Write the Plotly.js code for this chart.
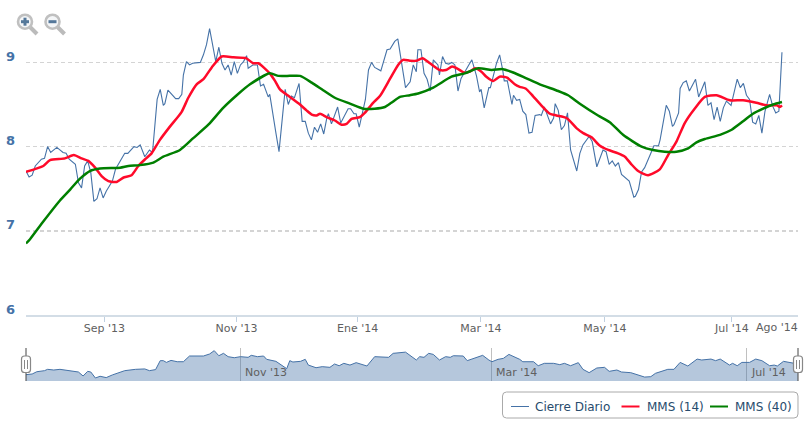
<!DOCTYPE html>
<html><head><meta charset="utf-8">
<script src="https://cdn.plot.ly/plotly-3.0.1.min.js"></script>
<style>html,body{margin:0;padding:0;background:#fff}#c{width:811px;height:424px}</style>
</head><body><div id="c"></div>
<script>
// Sessions are trading-day positions on the ordinal axis
const closeSessions=[0,1,2,3,5,6,7,8,10,12,13,14,16,17,18,19,20,21,22,23,24,25,26,28,29,32,33,35,36,37,38.5,40,41,41.5,42.5,43.5,44.5,45,46,48.5,49.5,50.5,51,52,53,54,56.5,57.5,58.5,59.5,60.5,61.5,62.5,63.5,64.5,65.5,66.5,67.5,68.5,69.5,70.5,71.5,72,73.5,75,76,77,78.5,79,80,81,82,83,84,85,86,87,88.5,89.5,90.5,91.5,92.5,93.5,94.5,95.5,96.5,97.5,98,99,101,102,104.4,105.2,106.3,107,108,110,111,112,113,115,117,118,119.5,120.5,121.5,123,124.5,125.5,126.5,127,128,129,130,131,132,133.5,134,135,136,137,138,139,140,141,143.5,144.5,146,147,147.5,148.5,150,150.5,152.5,153.5,154.5,155,156,157.5,158,159,160,161,162,163,164,165,166.5,167,168,169,170,171,171.5,172.5,173.5,174.5,175.5,176.5,178.5,179.5,180.5,182.5,183.5,185,187,188,189,190,191,192,193,195.5,197,197.5,198.5,199.5,200.5,202.5,203.5,205,205.5,207.5,208.5,209.5,210,211.5,212,213,214,215,217,218,220,221,222,223,224,225,226,227,228.5,230.5,231.5,232.5,233.5,234.5,235.5,236.5,237.5,238.5,239.5,241,242,243,244,245];
const closeValues=[7.71,7.64,7.66,7.77,7.85,7.86,8.00,7.93,7.99,7.93,7.92,7.85,7.79,7.57,7.51,7.77,7.83,7.69,7.35,7.38,7.51,7.39,7.47,7.59,7.73,7.92,7.92,8.00,7.99,8.02,7.88,7.96,7.93,8.12,8.56,8.68,8.49,8.51,8.67,8.57,8.57,8.62,8.85,9.01,8.97,8.99,9.00,9.09,9.21,9.40,9.19,9.01,9.18,8.99,8.91,8.97,8.85,9.01,8.87,8.97,9.01,9.08,8.93,8.97,8.97,8.72,8.74,8.59,8.62,8.36,8.16,7.94,8.32,8.68,8.50,8.60,8.58,8.75,8.30,8.30,8.16,8.08,8.23,8.17,8.27,8.15,8.34,8.39,8.27,8.47,8.28,8.45,8.45,8.39,8.39,8.23,8.56,8.91,9.00,8.94,8.90,9.15,9.16,9.25,9.28,9.03,8.70,8.77,8.97,8.89,9.15,9.15,8.87,8.80,8.66,9.03,8.97,8.85,9.07,8.99,8.98,9.00,8.97,8.66,8.81,8.97,9.03,8.84,8.65,8.68,8.46,8.70,8.70,8.99,9.09,8.91,8.78,8.78,8.50,8.61,8.55,8.56,8.42,8.38,8.16,8.17,8.37,8.38,8.37,8.47,8.36,8.27,8.34,8.51,8.43,8.20,8.25,8.40,7.96,7.71,7.92,8.02,8.12,8.06,7.76,7.96,7.94,7.79,7.83,7.77,7.81,7.67,7.59,7.40,7.41,7.49,7.70,7.75,7.92,8.01,8.01,8.08,8.49,8.42,8.24,8.26,8.40,8.69,8.76,8.78,8.66,8.80,8.59,8.77,8.49,8.52,8.32,8.47,8.30,8.46,8.54,8.49,8.80,8.70,8.75,8.61,8.56,8.29,8.27,8.37,8.16,8.42,8.62,8.48,8.40,8.42,9.12];
const mms14Sessions=[0,5.6,7.8,12.6,15.5,18,20.2,22.4,24.5,26.7,29.4,31.5,34.2,36.4,38.6,40.7,43.4,46.7,50.4,52.6,55.3,57.5,60.2,63.4,67.2,71.3,73.6,75.3,79,80.7,82.3,85.5,88.8,90.9,92.6,94.2,95.3,97.4,100.1,102.3,103.9,105.5,108.2,109.8,112.5,114.7,117.9,120.6,122.2,124.4,126.6,128.5,130.9,134.1,136.1,138.1,140.1,141.9,143.8,145.5,147.6,149.2,151.4,153.5,155.9,158.4,160,161.9,164.3,166.5,169.8,171.9,175.2,178.4,180.6,183.3,186,188.7,191.9,194.1,196.2,198.4,201.6,205.4,208.1,210.8,213.5,216.7,220,223.8,228.1,232.4,236.7,240,243.4,244.3,245];
const mms14Values=[7.70,7.77,7.84,7.86,7.90,7.86,7.83,7.75,7.65,7.59,7.58,7.63,7.66,7.77,7.85,7.92,8.08,8.24,8.41,8.58,8.74,8.80,8.94,9.07,9.06,9.05,8.99,8.99,8.87,8.78,8.68,8.59,8.50,8.43,8.38,8.37,8.39,8.35,8.31,8.26,8.27,8.33,8.35,8.40,8.52,8.60,8.80,8.97,9.03,9.02,9.02,9.05,8.99,8.91,8.91,8.95,8.92,8.88,8.89,8.93,8.89,8.83,8.78,8.83,8.82,8.74,8.71,8.69,8.60,8.51,8.39,8.37,8.34,8.22,8.16,8.11,8.01,7.96,7.92,7.88,7.79,7.71,7.66,7.73,7.90,8.06,8.28,8.45,8.59,8.61,8.55,8.55,8.52,8.49,8.49,8.47,8.49];
const mms40Sessions=[0,1.3,5.6,11,14.3,17.5,20.7,24,30.5,33.2,36.9,41.3,44.5,49.9,54.2,59.1,63.9,68.3,72.6,79,81.8,85.5,88.8,92.6,96.3,100.1,105,109.3,113,116.3,118.4,121.2,124.4,127.1,132,137.9,142.2,146.6,150.9,154.6,157.9,162.2,166.5,172.5,175.7,179.5,185.4,189.2,193.5,199.5,203.2,207,210.8,214.6,217.3,220,224.9,228.7,232.4,235.6,238.9,242.1,245];
const mms40Values=[6.85,6.90,7.11,7.36,7.49,7.62,7.71,7.74,7.75,7.77,7.78,7.81,7.88,7.96,8.10,8.26,8.46,8.61,8.74,8.87,8.84,8.84,8.84,8.76,8.67,8.58,8.51,8.45,8.45,8.47,8.52,8.59,8.61,8.63,8.70,8.83,8.87,8.93,8.91,8.92,8.88,8.81,8.74,8.66,8.61,8.51,8.37,8.29,8.14,8.00,7.96,7.94,7.94,7.98,8.05,8.09,8.14,8.20,8.30,8.39,8.45,8.50,8.53];
const navSessions=[0,2,3.5,6,7,9,11,14,17,18.5,20,21,22.5,24,26,28,32,35.5,38.5,40,42,43.5,44.5,45.5,47,49,51,53,57.5,59.5,61,62.5,64,65.5,67.5,69.5,72,73,75,77,78,81,84.5,85.5,86.5,89,90.5,91.5,94,96,98.5,100,101.5,103,105,107,110.5,113,117.5,119,123,126.5,127.6,129,130.5,132,134,136,137.5,138.5,141.7,143,146,148,150,151,153,154.7,156.5,160,161,164.5,166,168,171,173,174.5,176.5,179,180.5,182.5,185,187.5,189,191.5,193,196,200.5,202.5,204,208,210,212,214.5,217.5,219,222,223.5,225,228,229,230.5,232,234.5,236.5,238.5,241,242.5,243.5,245.5,249,250.2];
const navValues=[7.60,7.65,7.82,7.90,8.00,7.95,8.00,7.90,7.80,7.50,7.85,7.80,7.35,7.48,7.38,7.58,7.90,8.00,8.03,7.90,7.98,8.65,8.65,8.52,8.67,8.57,8.57,9.00,9.00,9.15,9.40,9.02,9.20,8.95,8.87,8.95,8.90,9.05,8.95,9.00,8.75,8.60,8.05,8.65,8.55,8.60,8.75,8.32,8.12,8.20,8.15,8.40,8.27,8.45,8.32,8.50,8.25,8.95,8.90,9.20,9.29,8.70,8.95,8.90,9.20,9.12,8.70,8.95,8.90,9.02,9.00,8.65,8.90,9.05,8.70,8.57,8.75,8.82,9.12,8.75,8.57,8.57,8.27,8.45,8.45,8.35,8.45,8.27,8.50,8.00,7.75,8.10,8.15,7.85,7.95,7.80,7.75,7.42,7.45,7.70,8.00,8.00,8.52,8.25,8.77,8.70,8.77,8.65,8.77,8.32,8.45,8.27,8.52,8.52,8.77,8.65,8.27,8.32,8.25,8.60,8.45,8.40];
const yTicks=[6,7,8,9];
const xTickSessions=[25.4,68.2,107.5,147.4,187.6,228.8];
const xTickLabels=["Sep '13","Nov '13","Ene '14","Mar '14","May '14","Jul '14"];
const lastTickLabel="Ago '14";
const navTickSessions=[69.5,150.8,233.5];
const navTickLabels=["Nov '13","Mar '14","Jul '14"];
const seriesNames=["Cierre Diario","MMS (14)","MMS (40)"];
const seriesColors=["#4572A7","#FF0A2A","#007F00"];

const W=811,H=424,F='"DejaVu Sans",sans-serif';
const px=x=>x/W, py=y=>1-y/H;
const line=(x0,y0,x1,y1,c,w)=>({type:'line',xref:'paper',yref:'paper',x0:px(x0),y0:py(y0),x1:px(x1),y1:py(y1),line:{color:c,width:w}});
const circ=(cx,cy,r,fc,lc,w)=>({type:'circle',xref:'paper',yref:'paper',x0:px(cx-r),x1:px(cx+r),y0:py(cy-r),y1:py(cy+r),fillcolor:fc,line:{color:lc,width:w}});
function rr(x0,y0,x1,y1,r,fc,lc,w){
  const X=v=>(v/W).toFixed(5),Y=v=>(1-v/H).toFixed(5);
  return {type:'path',xref:'paper',yref:'paper',fillcolor:fc,line:{color:lc,width:w},
   path:`M${X(x0+r)},${Y(y0)}L${X(x1-r)},${Y(y0)}Q${X(x1)},${Y(y0)} ${X(x1)},${Y(y0+r)}L${X(x1)},${Y(y1-r)}Q${X(x1)},${Y(y1)} ${X(x1-r)},${Y(y1)}L${X(x0+r)},${Y(y1)}Q${X(x0)},${Y(y1)} ${X(x0)},${Y(y1-r)}L${X(x0)},${Y(y0+r)}Q${X(x0)},${Y(y0)} ${X(x0+r)},${Y(y0)}Z`};
}
function handle(x){return [line(x,348,x,381,'#444',1),rr(x-4.5,356,x+4.5,372.5,3,'#fff','#888',1.2),line(x-1.5,360,x-1.5,369,'#888',1),line(x+1.5,360,x+1.5,369,'#888',1)];}
function zoomIcon(cx,plus){
  const s=[line(cx+5,27,cx+12,34,'#bbbbbb',4),circ(cx,21.7,7,'#f4f6f8','#c0c0c0',2.6),line(cx-4,21.7,cx+4,21.7,'#55789a',3)];
  if(plus)s.push(line(cx,17.7,cx,25.7,'#55789a',3));
  return s;
}
const xDom=[26/W,798/W];
const traces=[
 {x:closeSessions,y:closeValues,name:seriesNames[0],mode:'lines',line:{color:seriesColors[0],width:1.1},xaxis:'x',yaxis:'y',hoverinfo:'skip'},
 {x:mms14Sessions,y:mms14Values,name:seriesNames[1],mode:'lines',line:{color:seriesColors[1],width:2.5,shape:'spline',smoothing:0.6},xaxis:'x',yaxis:'y',hoverinfo:'skip'},
 {x:mms40Sessions,y:mms40Values,name:seriesNames[2],mode:'lines',line:{color:seriesColors[2],width:2.5,shape:'spline',smoothing:0.6},xaxis:'x',yaxis:'y',hoverinfo:'skip'},
 {x:navSessions,y:navValues,name:'Navigator',mode:'lines',fill:'tozeroy',fillcolor:'rgba(69,114,167,0.4)',line:{color:'#4572A7',width:1},xaxis:'x2',yaxis:'y2',hoverinfo:'skip'}
];
const annotations=navTickLabels.map((t,i)=>({text:t,xref:'x2',yref:'y2',x:navTickSessions[i],y:7.8,xanchor:'left',yanchor:'middle',xshift:3,showarrow:false,font:{family:F,size:11,color:'#606060'}}));
annotations.push({text:lastTickLabel,xref:'paper',yref:'paper',x:px(800),y:py(327),xanchor:'right',yanchor:'middle',showarrow:false,font:{family:F,size:11,color:'#606060'}});
const legX=[532.5,644.5,733];
seriesNames.forEach((n,i)=>annotations.push({text:n,xref:'paper',yref:'paper',x:px(legX[i]),y:py(406.5),xanchor:'left',yanchor:'middle',showarrow:false,font:{family:F,size:12,color:'#274b6d'}}));
const legLineX=[511,621.5,710];
const shapes=[rr(502.5,392,798,418,4,'#fff','#aaa',1),
 ...legLineX.map((x,i)=>line(x,406.5,x+18,406.5,seriesColors[i],i?2:1)),
 ...handle(26),...handle(798),...zoomIcon(25,true),...zoomIcon(52.5,false)];
Plotly.newPlot('c',traces,{
 width:W,height:H,margin:{l:0,r:0,t:0,b:0,pad:0},paper_bgcolor:'#fff',plot_bgcolor:'#fff',showlegend:false,
 xaxis:{domain:xDom,anchor:'y',range:[0,250.2],tickmode:'array',tickvals:xTickSessions,ticktext:xTickLabels,ticks:'outside',ticklen:5,tickcolor:'#C0D0E0',tickwidth:1,showgrid:false,showline:true,linecolor:'#D3DDE6',linewidth:2,zeroline:false,ticklabelstandoff:-3,tickfont:{family:F,size:11,color:'#606060'}},
 yaxis:{domain:[py(315),py(20)],anchor:'x',range:[6,6+295/84.2],tickmode:'array',tickvals:yTicks,showgrid:true,gridcolor:'#D4D4D4',griddash:'4px,3px',gridwidth:1.5,zeroline:false,ticklabelshift:-6,ticklabelstandoff:10,tickfont:{family:F,size:13,color:'#4572A7',weight:600}},
 xaxis2:{domain:xDom,anchor:'y2',range:[0,250.2],tickmode:'array',tickvals:navTickSessions,showticklabels:false,showgrid:true,gridcolor:'rgba(150,150,150,0.6)',gridwidth:1.5,zeroline:false},
 yaxis2:{domain:[py(381),py(348)],anchor:'x2',range:[7.125,9.6],showticklabels:false,showgrid:false,zeroline:false},
 shapes,annotations
},{displayModeBar:false,staticPlot:true});
</script></body></html>
